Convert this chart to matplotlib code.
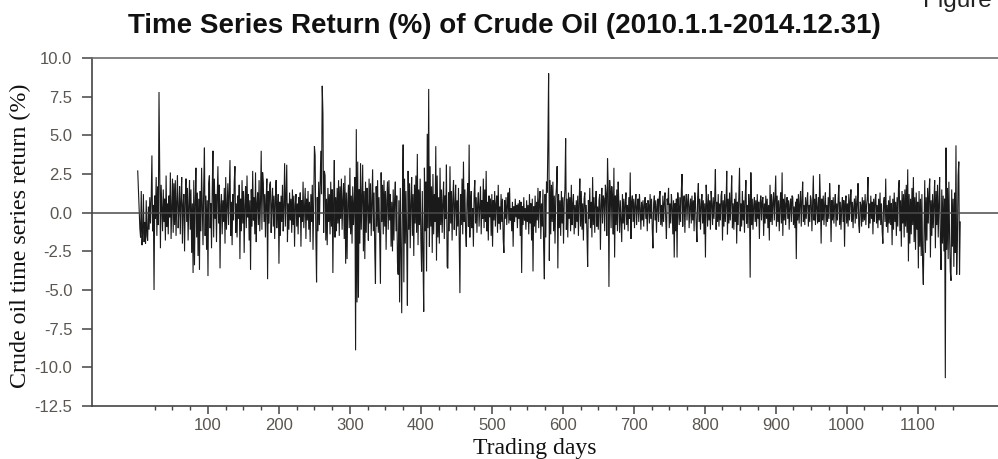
import numpy as np
import matplotlib
matplotlib.use('Agg')
import matplotlib.pyplot as plt

# Daily returns (%), in five consecutive blocks of trading days
returns_block1 = [
    2.7, 1.5, 0.2, -1.0, -1.6, 1.4, -2.1, -1.3, 1.2, -1.9, -0.6, -2.0, 0.8, -1.5, -1.8, 0.4, -1.1, 1.0, -0.7, 0.9,
    3.7, -1.2, 0.5, -5.0, 1.1, -0.4, 2.3, -1.5, 1.7, -0.8, 7.8, 3.1, -2.3, 1.8, 0.3, -1.2, 1.5, -0.6, 0.9, -1.8,
    2.4, -0.9, 0.6, -1.4, 1.1, -0.3, 2.6, -1.7, 0.4, 2.2, -1.3, 1.9, -0.8, 2.1, -1.5, 0.7, 2.4, -1.0, 0.2, 1.7,
    -1.4, 0.9, 2.3, -2.0, 0.5, 1.2, -2.5, 0.8, 2.2, -0.6, 1.6, -1.8, 0.4, 2.1, -1.1, 1.5, -2.6, 0.6, -3.9, 2.1,
    -3.4, 0.7, 2.9, -1.6, 1.3, -2.8, 0.9, -3.7, 1.4, -1.2, 2.9, 0.5, -2.1, 1.8, 4.2, -1.5, 1.1, -2.4, 0.8, -4.1,
    1.9, 2.4, -1.0, 0.6, -2.3, 1.5, 4.0, -1.6, 2.2, -0.4, 1.2, -1.9, 0.9, 3.0, -0.7, 1.8, -3.6, 0.5, 1.2, -1.4,
    0.8, -0.6, 1.6, -2.0, 2.3, -1.1, 0.4, 1.9, -0.8, 1.3, 3.4, -1.5, 0.7, -2.1, 1.2, -0.5, 2.0, 3.0, -1.3, 0.6,
    -1.6, 1.1, -0.4, 1.8, -3.0, 0.9, -1.2, 2.1, -0.7, 1.4, -2.6, 0.5, 1.7, -1.0, 2.4, -0.3, 1.2, -1.8, 0.8, -3.7,
    1.5, -0.9, 2.7, -0.5, 1.0, -1.4, 2.6, -1.9, 0.6, 1.3, -0.8, 2.1, -1.2, 0.7, 4.0, -1.1, 2.6, 1.9, -0.6, 1.2,
    -1.6, 0.9, 2.2, -4.3, 1.4, -0.7, 1.8, 2.0, -1.3, 0.5, 1.6, -0.9, 1.1, -1.7, 0.8, 2.1, -1.0, 0.3, 1.2, -3.3,
    0.7, -1.5, 1.1, -0.6, 1.8, -1.2, 0.4, 3.2, -0.9, 1.0, 3.1, -1.9, 0.6, -1.1, 1.3, -0.5, 0.9, -1.3, 1.5, -0.8,
    1.1, -2.2, 0.5, 1.2, -0.9, 0.6, -1.4, 1.0, -0.3, 1.3, -2.2, 0.8, -0.6, 2.0, -1.0, 0.4, 1.6, -1.7, 0.9, -0.5,
]
returns_block2 = [
    1.4, -1.1, 0.7, -1.9, 1.2, -0.6, 1.8, -2.4, 0.5, 4.3, 3.7, -1.5, -4.5, 1.0, -1.2, 2.0, -0.8, 1.6, 4.0, 1.2,
    8.2, 6.4, -1.3, 2.7, 2.4, -1.8, 0.9, -2.1, 1.6, -0.6, 1.2, -1.4, 2.0, -0.9, 1.5, -3.9, 0.6, 3.4, -1.6, 1.0,
    -1.2, 1.6, -0.7, 2.1, -1.5, 1.7, -0.4, 2.2, -1.1, 0.8, 1.9, -1.7, 2.4, -3.3, 1.3, -3.0, 0.7, 1.8, -1.0, 2.9,
    -1.4, 1.1, -2.0, 1.7, -0.8, 0.6, 2.3, -8.9, 5.4, -5.8, 3.3, -5.5, 1.5, -2.0, 3.2, -1.1, 0.9, 3.1, -2.5, 1.4,
    -3.0, 2.0, -1.3, 1.6, 0.4, -1.8, 2.2, -0.7, 1.9, -1.5, 0.8, 2.8, -1.2, 1.3, -2.4, -4.6, 1.7, -0.9, 2.1, -1.3,
    1.0, -1.7, -4.6, 2.6, -0.6, 1.8, -1.4, 2.1, -0.9, 1.4, -2.4, 0.8, 2.0, -1.1, 2.1, -0.5, 1.2, -2.2, 0.7, -2.5,
    1.5, -1.8, 0.9, 2.0, -1.2, 1.1, -3.2, -4.0, 0.8, -5.8, 1.6, -2.5, -6.5, 1.0, 4.4, -4.5, 2.2, -2.0, 1.4, -1.6,
    -6.0, 2.7, -1.1, 1.9, -2.3, 0.6, 2.3, -1.5, 1.2, -2.8, 1.8, -0.7, 2.4, -1.3, 3.8, -2.1, 1.5, -0.8, 2.2, -1.8,
    -3.8, 1.4, -2.9, -6.4, 2.9, -1.2, 2.0, -3.8, 5.1, -1.0, 8.0, -2.2, 3.0, -0.9, 1.7, -2.6, 2.5, -1.4, 1.2, -0.6,
    4.3, -3.1, 2.4, -1.6, 1.0, -2.0, 2.9, -0.8, 1.5, -1.3, 0.6, 2.0, -1.7, 1.1, -0.4, 3.1, -3.5, -3.6, 1.3, -1.2,
    3.0, -0.7, 1.4, -1.8, 0.9, 2.1, -1.1, 0.5, 1.8, -1.5, 0.8, -0.9, 1.6, -2.0, -5.2, 1.2, -0.8, 2.2, -1.4, 3.3,
    -0.6, 1.5, -1.2, -2.2, 0.7, 1.9, -0.9, 4.4, -1.6, 0.8, 1.4, -1.0, 0.3, -2.2, 1.2, 2.1, -0.7, 1.0, -1.3, 0.6,
]
returns_block3 = [
    1.3, -0.9, 0.5, 1.7, -1.4, 0.8, -0.4, 2.2, -1.0, 1.5, -0.6, 2.7, -1.2, 0.7, -1.8, 1.1, -0.3, 0.9, -1.5, 1.2,
    -2.2, 0.8, -0.5, 1.4, -0.9, 0.6, 1.1, -1.3, 1.8, -0.7, 0.4, -1.1, 1.2, -0.6, 0.9, -1.7, -2.6, 0.8, -0.4, 1.0,
    -0.8, 0.5, 1.3, -0.7, 1.6, -0.5, 0.3, -1.2, 0.7, -2.2, 0.4, -0.6, 0.9, -0.3, 0.5, -1.0, 0.6, -0.4, 0.8, -1.5,
    0.7, -3.9, 0.4, -0.8, 1.0, -0.5, 0.3, -1.1, 0.8, -0.6, 0.5, -1.4, 1.2, -0.7, 0.6, -1.8, 0.9, -3.8, 0.4, -0.9,
    1.1, -1.3, 0.7, -0.5, 1.6, -1.0, 0.8, 1.4, -1.7, 0.6, -0.9, 1.5, -2.3, -4.3, 1.2, -1.6, 2.0, 1.3, 4.6, 9.0,
    -3.1, 2.1, -1.4, 1.8, -0.6, 2.0, -1.2, 1.1, -2.0, 0.9, 1.6, 3.0, -3.6, 1.2, -1.0, 0.8, -1.5, 1.4, -0.7, 1.0,
    -2.0, 0.7, 1.5, 4.8, -1.1, 0.9, -1.6, 1.3, -0.4, 1.0, -1.2, 1.8, -0.8, 0.6, 1.2, -1.4, 0.5, -1.0, 0.8, -0.6,
    1.1, -1.5, 0.7, 2.2, -0.9, 1.4, -1.1, 0.6, -1.8, 0.9, 1.3, -0.7, 0.5, -1.3, -3.5, 0.8, -0.4, 1.6, -1.0, 0.7,
    -1.6, 2.3, -0.8, 1.0, -1.3, 0.6, 1.4, -0.9, 0.4, -1.1, 0.8, 1.2, -2.4, 0.5, 1.6, -0.7, 1.1, 0.9, -1.2, 1.8,
    1.2, -1.5, 3.5, 1.6, -4.8, 2.1, 1.3, -1.0, 1.7, 0.9, -1.4, 2.9, -2.9, 1.1, -0.8, 1.5, -1.2, 2.0, 0.6, -1.3,
    0.8, -0.5, -1.9, 1.2, -0.7, 0.9, -1.1, 0.6, 1.3, -0.8, 0.5, -1.2, 1.0, -0.4, 2.6, -1.7, 0.7, 1.1, -0.6, 0.9,
    -1.0, 0.6, 1.2, -0.8, 0.4, 0.9, -0.6, 1.2, 0.3, -1.1, 0.7, -0.5, 0.8, -0.9, 0.5, 1.0, -0.4, 0.6, -1.2, 0.8,
]
returns_block4 = [
    0.5, -0.7, 1.2, -0.4, 0.9, -1.0, -2.3, 0.6, 1.1, -0.5, 0.8, -1.3, 0.4, 0.9, -0.6, 1.0, 1.4, -0.8, 0.5, -0.9,
    1.1, -0.6, 0.7, 1.3, -0.4, -1.7, 0.9, 0.5, 1.6, -1.0, 0.6, -0.7, 1.2, 0.4, -1.4, 0.8, -2.9, 0.6, -1.2, 0.9,
    -2.9, 1.3, 0.5, -0.8, 1.0, -0.6, 1.4, 2.5, -0.9, 0.7, 1.1, -1.3, 0.6, 1.2, -0.5, 0.8, 1.2, -1.0, 0.4, 0.9,
    -0.7, 1.1, -0.5, 0.8, -1.2, 1.3, 0.6, -0.8, -1.9, 1.0, 1.9, -0.6, 0.9, -1.1, 0.5, 1.2, -0.7, 0.8, -1.4, 0.6,
    -2.9, 1.8, 0.7, -0.9, 1.2, -0.5, 0.8, -1.1, 1.4, 0.6, -0.8, 1.0, -0.4, 0.9, 2.8, -1.1, 0.7, -0.6, 1.2, -0.9,
    0.6, -0.5, 1.1, 1.4, -1.8, 0.8, -0.9, 1.2, -0.6, 0.5, 2.7, -1.4, 0.9, -0.7, 1.3, -0.5, 0.8, 2.4, -1.0, 0.6,
    -1.1, 0.9, -0.6, 1.3, -2.0, 0.7, -0.8, 1.1, 2.9, -1.2, 0.6, -0.9, 1.4, -0.5, 0.8, -1.3, 1.0, 2.1, -0.7, 0.5,
    -1.0, 1.2, 0.6, -4.2, 2.6, -0.8, 0.9, -1.1, 0.5, 1.0, -0.6, 0.8, -0.9, 1.2, -0.4, 0.7, -1.7, 0.6, 1.1, -0.5,
    0.8, 1.0, -1.5, 0.6, -0.7, 1.1, -0.4, 0.9, -1.0, 0.5, -1.8, 1.8, -0.6, 1.2, -0.8, 0.7, 1.3, -0.5, 0.9, 2.4,
    -0.9, 1.1, -0.6, 0.8, -1.2, 0.5, 1.3, -0.7, 2.6, -1.5, 0.9, -0.5, 1.2, -0.8, 0.6, 1.0, -0.4, 0.8, -1.1, 0.5,
    0.9, -0.6, 1.1, 1.0, -0.8, 0.4, -1.0, 0.7, -3.0, 0.9, -0.5, 1.2, -0.7, 0.6, 1.4, -0.9, 0.8, 2.0, -0.6, 0.5,
]
returns_block5 = [
    -0.8, 1.0, -0.4, 0.7, 1.3, -0.9, 0.5, -0.6, 1.1, 0.8, -1.2, 0.6, 2.4, -0.5, 0.9, -0.8, 1.2, 0.4, -0.7, 1.0,
    -0.6, 2.5, 0.7, -2.0, 0.9, -0.5, 1.1, -0.8, 0.6, 1.3, -0.9, 0.5, -0.6, 1.0, -0.4, 1.9, 0.7, -1.9, 0.8, -0.5,
    1.0, -0.7, 0.5, 1.2, -0.9, 0.6, -0.5, 0.9, 1.8, -0.8, 0.7, -1.1, 0.4, 1.0, -0.6, 0.8, -2.2, 0.5, 1.1, -0.7,
    0.6, -0.9, 1.2, -0.5, 0.8, 1.5, -0.6, 0.7, -1.0, 0.4, 0.9, -0.7, 1.1, -0.4, 0.6, 1.9, -0.8, -1.3, 0.7, 0.5,
    -0.9, 1.0, -0.6, 0.8, -0.5, 1.2, -0.8, 0.5, 0.9, 2.3, -1.0, 0.6, -0.7, 1.1, -0.4, 0.7, -1.4, 0.9, -0.6, 0.8,
    1.2, -0.7, 0.5, -1.0, 0.9, -0.5, 1.3, -0.8, 0.6, -1.2, -2.0, 0.7, 1.0, -0.6, 2.2, -0.9, 0.5, -1.3, 0.8, -0.7,
    1.1, -0.8, 0.6, -2.1, 0.9, -1.1, 1.3, -0.6, 0.7, -1.5, 1.0, -0.9, 1.6, 2.1, -1.2, 0.8, -2.2, 1.4, -0.7, 1.2,
    -1.6, 1.5, -0.9, 1.8, -1.3, 2.8, -3.15, 1.2, -2.0, 0.9, -1.4, 1.6, -0.8, 2.3, -1.9, 1.0, -2.4, 1.3, -1.1, 0.7,
    -3.6, 1.4, -2.2, 0.9, -2.8, 1.2, -3.3, -4.65, -1.5, 2.1, -2.6, 1.0, -1.8, 1.6, -0.7, 1.3, 2.2, -2.9, 0.8, -1.5,
    1.2, -1.0, 0.7, 2.1, -2.3, 1.4, -0.8, 1.8, -1.6, 0.6, 2.3, -1.9, -3.7, 1.5, -2.0, 1.1, -2.5, 0.9, -10.7, 4.2,
    -2.4, 1.6, -3.0, 2.0, -1.5, -3.8, -4.4, 1.5, -2.2, 0.9, -3.5, 1.3, -2.6, 4.35, -4.0, -1.8, 2.4, 3.3, -4.0, -0.6,
]

returns = returns_block1 + returns_block2 + returns_block3 + returns_block4 + returns_block5
days = np.arange(1, len(returns) + 1)

x_major_ticks = [100, 200, 300, 400, 500, 600, 700, 800, 900, 1000, 1100]
x_minor_ticks = [t for t in range(25, 1151, 25) if t % 100 != 0]
y_ticks = [10.0, 7.5, 5.0, 2.5, 0.0, -2.5, -5.0, -7.5, -10.0, -12.5]

title_text = "Time Series Return (%) of Crude Oil (2010.1.1-2014.12.31)"
x_label = "Trading days"
y_label = "Crude oil time series return (%)"

sans = ['Liberation Sans', 'DejaVu Sans']
serif = ['Liberation Serif', 'DejaVu Serif']

fig = plt.figure(figsize=(9.98, 4.59), dpi=100)
ax = fig.add_axes([0.0922, 0.1155, 0.9198, 0.7581])

ax.plot(days, returns, color='#1a1a1a', lw=0.8, solid_joinstyle='miter')
ax.axhline(0, color='#4a4a4a', lw=1.1, zorder=3)

ax.set_xlim(-63.4, 1230.1)
ax.set_ylim(-12.5, 10.0)

ax.set_xticks(x_major_ticks)
ax.set_xticklabels([str(t) for t in x_major_ticks])
ax.set_xticks(x_minor_ticks, minor=True)
ax.set_yticks(y_ticks)
ax.set_yticklabels([f"{v:.1f}" for v in y_ticks])

for lab in ax.get_xticklabels() + ax.get_yticklabels():
    lab.set_family(sans)
    lab.set_fontsize(12)
    lab.set_color('#5a5550')

ax.tick_params(axis='y', which='major', direction='out', length=7.2, width=1.1,
               color='#444444', pad=7)
ax.tick_params(axis='x', which='major', direction='out', length=5.5, width=1.1,
               color='#444444', pad=3.5)
ax.tick_params(axis='x', which='minor', direction='out', length=3.0, width=1.0,
               color='#444444')

ax.spines['right'].set_visible(False)
ax.spines['left'].set_color('#444444')
ax.spines['bottom'].set_color('#444444')
ax.spines['top'].set_color('#6e6e6e')
for s in ['left', 'bottom', 'top']:
    ax.spines[s].set_linewidth(1.2)

fig.text(0.505, 0.928, title_text, ha='center', va='baseline', fontsize=20,
         fontweight='bold', family=sans, color='#111111')
fig.text(0.925, 0.984, "Figure", ha='left', va='baseline', fontsize=17.5,
         family=sans, color='#222222')
fig.text(0.020, 0.486, y_label, rotation=90, ha='center', va='center',
         fontsize=17.3, family=serif, color='#111111')
fig.text(0.536, 0.011, x_label, ha='center', va='baseline', fontsize=17,
         family=serif, color='#111111')

fig.savefig('out.png', dpi=100)
